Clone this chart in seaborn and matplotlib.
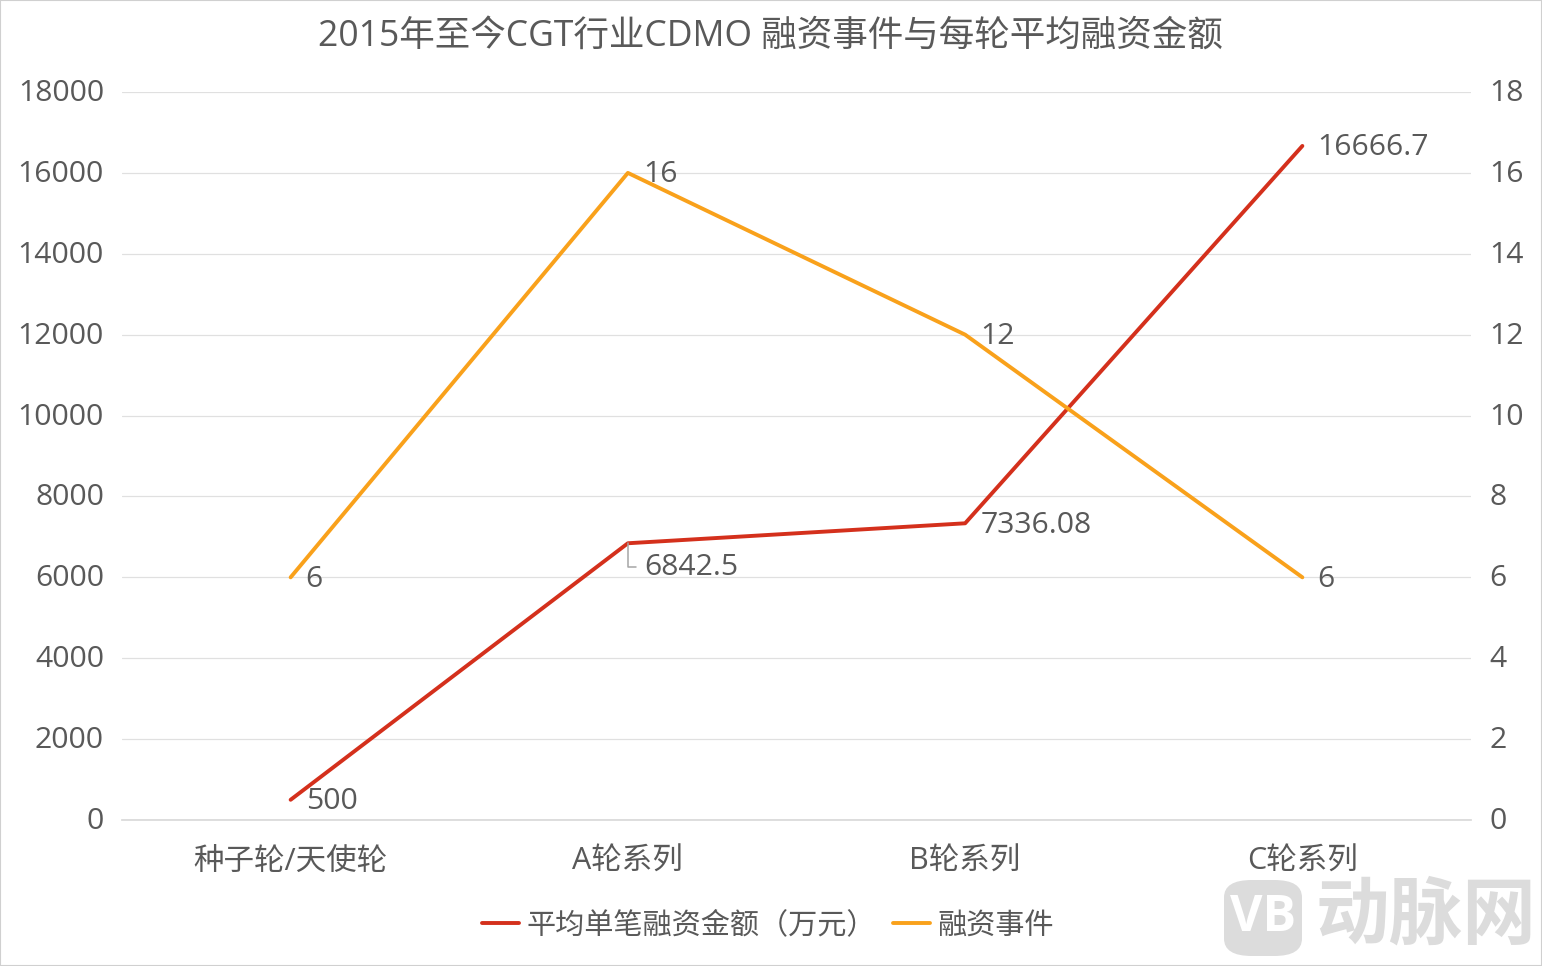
import matplotlib
matplotlib.use("Agg")
import matplotlib.pyplot as plt
import pandas as pd
import seaborn as sns
from matplotlib.patches import FancyBboxPatch, Rectangle
from matplotlib.transforms import ScaledTranslation

ROUNDS = ["种子轮/天使轮", "A轮系列", "B轮系列", "C轮系列"]
AVG_AMOUNT = [500, 6842.5, 7336.08, 16666.7]
EVENTS = [6, 16, 12, 6]
AMOUNT_LABELS = ["500", "6842.5", "7336.08", "16666.7"]
EVENT_LABELS = ["6", "16", "12", "6"]
LEFT_TICKS = [0, 2000, 4000, 6000, 8000, 10000, 12000, 14000, 16000, 18000]
RIGHT_TICKS = [0, 2, 4, 6, 8, 10, 12, 14, 16, 18]

TEXT = "#595959"
RED = "#D4301C"
ORANGE = "#F9A11B"

sns.set_theme(style="white")
plt.rcParams["font.family"] = ["Open Sans", "Noto Sans CJK SC", "DejaVu Sans"]

df = pd.DataFrame({"round": ROUNDS, "amount": AVG_AMOUNT, "events": EVENTS})
W, H = 1542, 966
fig = plt.figure(figsize=(W / 100, H / 100), dpi=100)
ax = fig.add_axes([122 / W, 1 - 820 / H, (1471 - 122) / W, (820 - 92) / H])
ax2 = ax.twinx()

sns.lineplot(data=df, x="round", y="amount", ax=ax, color=RED, linewidth=2.8,
             sort=False, label="平均单笔融资金额（万元）", legend=False)
sns.lineplot(data=df, x="round", y="events", ax=ax2, color=ORANGE, linewidth=2.8,
             sort=False, label="融资事件", legend=False)

# tick labels sit a touch above their gridlines in the original
nudge_up = ScaledTranslation(0, 2 / 100, fig.dpi_scale_trans)
for a, ticks in ((ax, LEFT_TICKS), (ax2, RIGHT_TICKS)):
    a.set_ylim(ticks[0], ticks[-1])
    a.set_yticks(ticks)
    a.set_xlim(-0.5, 3.5)
    a.set_xlabel("")
    a.set_ylabel("")
    for s in a.spines.values():
        s.set_visible(False)
    a.tick_params(axis="y", length=0, labelsize=21.7, labelcolor=TEXT, pad=13)
    for label in a.get_yticklabels():
        label.set_transform(label.get_transform() + nudge_up)
ax.tick_params(axis="x", length=0, labelsize=22, labelcolor=TEXT, pad=19)
ax.spines["bottom"].set_visible(True)
ax.spines["bottom"].set_color("#D9D9D9")
ax.grid(axis="y", color="#E0E0E0", linewidth=0.9)
ax.set_axisbelow(True)

for i, (v, lab) in enumerate(zip(AVG_AMOUNT, AMOUNT_LABELS)):
    if lab == "6842.5":
        # this one was pushed below the line, with a small leader
        ax.annotate(lab, (i, v), xytext=(16, -24), textcoords="offset pixels",
                    fontsize=21.7, color=TEXT, va="center", ha="left",
                    arrowprops=dict(arrowstyle="-", color="#A6A6A6", linewidth=1.1, relpos=(0, 0.5),
                                    connectionstyle="angle,angleA=0,angleB=90,rad=0",
                                    shrinkA=3, shrinkB=0))
    else:
        ax.annotate(lab, (i, v), xytext=(15, -2), textcoords="offset pixels",
                    fontsize=21.7, color=TEXT, va="center", ha="left")
for i, (v, lab) in enumerate(zip(EVENTS, EVENT_LABELS)):
    ax2.annotate(lab, (i, v), xytext=(15, -2), textcoords="offset pixels",
                 fontsize=21.7, color=TEXT, va="center", ha="left")

fig.text(770 / W, 1 - 37 / H, "2015年至今CGT行业CDMO 融资事件与每轮平均融资金额",
         fontsize=25.6, color=TEXT, ha="center", va="center")

handles = ax.get_lines()[:1] + ax2.get_lines()[:1]
fig.legend(handles, [h.get_label() for h in handles], loc="center",
           bbox_to_anchor=(768 / W, 1 - 926 / H), ncol=2, frameon=False,
           fontsize=21, labelcolor=TEXT, handlelength=1.25, columnspacing=0.6, handletextpad=0.26)

# watermark and outer border
fig.add_artist(FancyBboxPatch((1224 / W, 1 - 956 / H), 78 / W, 76 / H, boxstyle="round,pad=0,rounding_size=0.018",
                              transform=fig.transFigure, facecolor="#DCDCDC", edgecolor="none"))
fig.text(1263 / W, 1 - 918 / H, "VB", fontsize=36, color="white", ha="center", va="center", weight="bold")
fig.text(1426 / W, 1 - 919 / H, "动脉网", fontsize=53, color="#DCDCDC", ha="center", va="center", weight="bold")
fig.add_artist(Rectangle((0, 0), 1, 1, transform=fig.transFigure, fill=False, edgecolor="#D0D0D0", linewidth=1.5))

fig.savefig("out.png", dpi=100)
